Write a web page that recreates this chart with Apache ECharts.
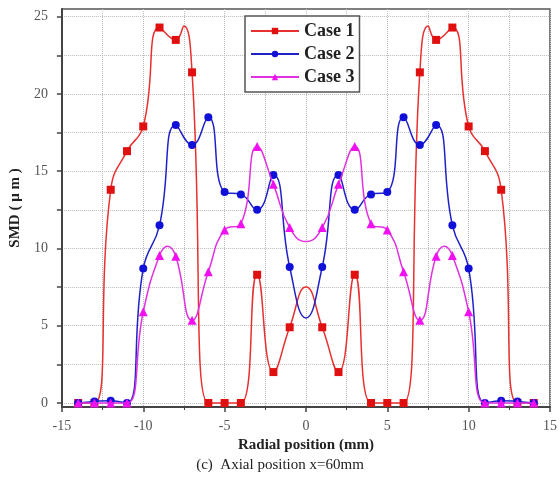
<!DOCTYPE html>
<html>
<head>
<meta charset="utf-8">
<script src="https://cdn.jsdelivr.net/npm/echarts@6/dist/echarts.min.js"></script>
<style>
  html, body { margin: 0; padding: 0; background: #fff; }
  #chart { width: 560px; height: 492px; }
</style>
</head>
<body>
<div id="chart"></div>
<script>
// --- data (radial position in mm, SMD in um) ---
var case1X = [-14, -13, -12, -11, -10, -9, -8, -7.5, -7, -6, -5, -4, -3, -2, -1, 0, 1, 2, 3, 4, 5, 6, 7, 7.5, 8, 9, 10, 11, 12, 13, 14];
var case1Y = [0, 0, 13.8, 16.3, 17.9, 24.3, 23.5, 24.4, 21.4, 0, 0, 0, 8.3, 2.0, 4.9, 7.5, 4.9, 2.0, 8.3, 0, 0, 0, 21.4, 24.4, 23.5, 24.3, 17.9, 16.3, 13.8, 0, 0];
var case1Hidden = [-7.5, 0, 7.5];

var case2X = [-14, -13, -12, -11, -10, -9, -8, -7, -6, -5, -4, -3, -2, -1, 0, 1, 2, 3, 4, 5, 6, 7, 8, 9, 10, 11, 12, 13, 14];
var case2Y = [0, 0.1, 0.15, 0, 8.7, 11.5, 18.0, 16.7, 18.5, 13.65, 13.5, 12.5, 14.75, 8.8, 5.5, 8.8, 14.75, 12.5, 13.5, 13.65, 18.5, 16.7, 18.0, 11.5, 8.7, 0, 0.15, 0.1, 0];
var case2Hidden = [0];

var case3X = [-14, -13, -12, -11, -10, -9, -8.5, -8, -7, -6, -5, -4, -3, -2, -1, 0, 1, 2, 3, 4, 5, 6, 7, 8, 8.5, 9, 10, 11, 12, 13, 14];
var case3Y = [0, 0, 0, 0, 5.9, 9.55, 10.15, 9.5, 5.35, 8.5, 11.2, 11.6, 16.6, 14.15, 11.35, 10.45, 11.35, 14.15, 16.6, 11.6, 11.2, 8.5, 5.35, 9.5, 10.15, 9.55, 5.9, 0, 0, 0, 0];
var case3Hidden = [-8.5, 0, 8.5];

var yLabels = [0, 5, 10, 15, 20, 25];
var yTicks = [0, 2.5, 5, 7.5, 10, 12.5, 15, 17.5, 20, 22.5, 25];

var serif = '"Liberation Serif", "DejaVu Serif", serif';

function pts(xs, ys, hidden) {
  return xs.map(function(x, i) {
    var item = { value: [x, ys[i]] };
    if (hidden.indexOf(x) >= 0) item.symbol = 'none';
    return item;
  });
}

var chart = echarts.init(document.getElementById('chart'), null, { renderer: 'canvas' });

var option = {
  animation: false,
  backgroundColor: '#fff',
  title: {
    text: '(c)  Axial position x=60mm',
    left: 'center',
    top: 453,
    textStyle: { fontFamily: serif, fontSize: 15, fontWeight: 'normal', color: '#222' }
  },
  grid: {
    left: 58, right: 10, top: 9, bottom: 85,
    show: true,
    borderColor: '#555',
    borderWidth: 1.5
  },
  legend: {
    orient: 'vertical',
    left: 245,
    top: 16,
    padding: [6, 5, 6, 5],
    itemGap: 5,
    itemWidth: 48,
    itemHeight: 8,
    borderColor: '#555',
    borderWidth: 1.5,
    backgroundColor: '#fff',
    textStyle: { fontFamily: serif, fontSize: 18, fontWeight: 'bold', color: '#222' },
    data: ['Case 1', 'Case 2', 'Case 3']
  },
  xAxis: {
    type: 'value',
    min: -15,
    max: 15,
    interval: 5,
    name: 'Radial position (mm)',
    nameLocation: 'middle',
    nameGap: 30,
    nameTextStyle: { fontFamily: serif, fontSize: 15, fontWeight: 'bold', color: '#222' },
    axisLine: { onZero: false, lineStyle: { color: '#444', width: 2 } },
    axisTick: { length: 5, lineStyle: { color: '#444', width: 1.5 } },
    minorTick: { show: true, splitNumber: 2, length: 3, lineStyle: { color: '#444' } },
    axisLabel: { fontFamily: serif, fontSize: 14, color: '#555', margin: 12 },
    splitLine: { show: true, lineStyle: { color: '#bbb', type: 'dotted', width: 1 } },
    minorSplitLine: { show: true, lineStyle: { color: '#bbb', type: 'dotted', width: 1 } }
  },
  yAxis: {
    type: 'value',
    min: -0.26,
    max: 25.5,
    name: 'SMD ( μ m )',
    nameLocation: 'middle',
    nameGap: 38,
    nameTextStyle: { fontFamily: serif, fontSize: 15, fontWeight: 'bold', color: '#222' },
    axisLine: { show: true, onZero: false, lineStyle: { color: '#444', width: 2 } },
    axisTick: { show: true, length: 5, customValues: yTicks, lineStyle: { color: '#444', width: 1.5 } },
    axisLabel: { fontFamily: serif, fontSize: 14, color: '#555', margin: 14, customValues: yLabels },
    splitLine: { show: true, lineStyle: { color: '#bbb', type: 'dotted', width: 1 } }
  },
  series: [
    {
      name: 'Case 1',
      type: 'line',
      smooth: 0.5,
      data: pts(case1X, case1Y, case1Hidden),
      symbol: 'rect',
      symbolSize: 8,
      lineStyle: { color: '#e83030', width: 1.5 },
      itemStyle: { color: '#e01010' },
      z: 3
    },
    {
      name: 'Case 2',
      type: 'line',
      smooth: 0.5,
      data: pts(case2X, case2Y, case2Hidden),
      symbol: 'circle',
      symbolSize: 8,
      lineStyle: { color: '#2020c8', width: 1.5 },
      itemStyle: { color: '#1010d8' },
      z: 4
    },
    {
      name: 'Case 3',
      type: 'line',
      smooth: 0.5,
      data: pts(case3X, case3Y, case3Hidden),
      symbol: 'triangle',
      symbolSize: 9,
      lineStyle: { color: '#e030e0', width: 1.5 },
      itemStyle: { color: '#f010f0' },
      z: 5
    }
  ]
};

chart.setOption(option);
</script>
</body>
</html>
